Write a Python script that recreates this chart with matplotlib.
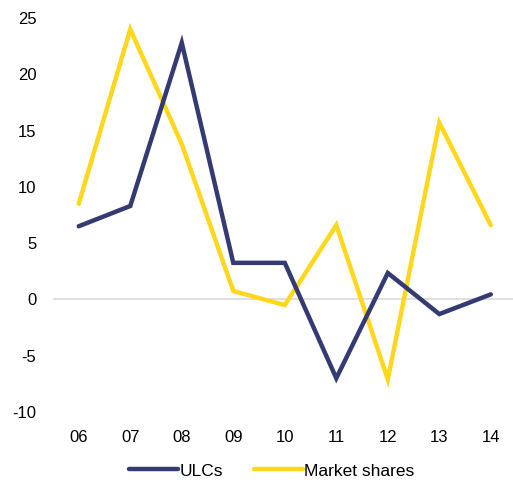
import matplotlib
matplotlib.use("Agg")
import matplotlib.pyplot as plt

years = ["06", "07", "08", "09", "10", "11", "12", "13", "14"]
ulcs = [6.5, 8.3, 22.8, 3.25, 3.25, -7.0, 2.35, -1.3, 0.45]
market_shares = [8.5, 24.0, 13.8, 0.75, -0.5, 6.6, -7.1, 15.7, 6.6]
yticks = [-10, -5, 0, 5, 10, 15, 20, 25]

plt.rcParams['font.family'] = ['Liberation Sans', 'DejaVu Sans']

fig = plt.figure(figsize=(5.13, 4.86), dpi=100)
ax = fig.add_axes([53/513, 74/486, 1 - 53/513 + 0.012, (412-18)/486])

x = list(range(len(years)))
ax.axhline(0, color="#d9d9d9", lw=1.2, zorder=1)
ax.plot(x, ulcs, color="#343a72", lw=3.2, label="ULCs", solid_capstyle="round", solid_joinstyle="miter", zorder=3)
ax.plot(x, market_shares, color="#ffd71c", lw=3.2, label="Market shares", solid_capstyle="round", solid_joinstyle="miter", zorder=2)

ax.set_xlim(-0.5, 8.55)
ax.set_ylim(-10, 25)
ax.set_yticks(yticks)
ax.set_yticklabels([str(v) for v in yticks])
ax.set_xticks(x)
ax.set_xticklabels(years)
for s in ax.spines.values():
    s.set_visible(False)
ax.tick_params(axis="both", length=0, labelsize=12, colors="#000000")
ax.tick_params(axis="y", pad=12)
ax.tick_params(axis="x", pad=13)

leg = fig.legend(loc="center", bbox_to_anchor=(0.53, 15/486), ncol=2, frameon=False,
                 fontsize=12.5, handlelength=2.8, handletextpad=0.1, columnspacing=1.8)

fig.savefig("out.png", dpi=100)
